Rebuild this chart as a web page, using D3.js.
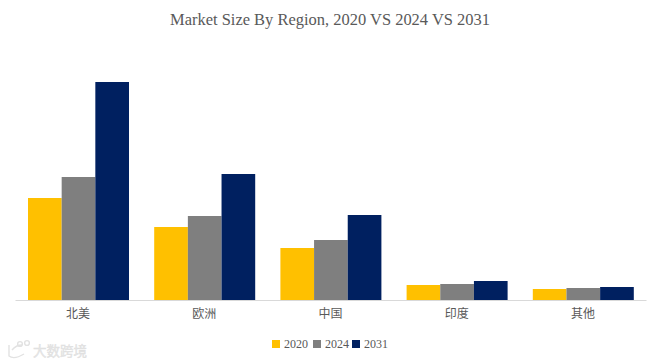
<!DOCTYPE html>
<html><head><meta charset="utf-8">
<script src="https://cdn.jsdelivr.net/npm/d3@7"></script>
<style>html,body{margin:0;padding:0;background:#fff}svg{display:block}</style>
</head><body><svg id="c" width="661" height="364"></svg>
<script>
const categories = ["北美","欧洲","中国","印度","其他"];
const years = ["2020","2024","2031"];
const v2020 = [102,73,52,15,11];
const v2024 = [123,84,60,16,12];
const v2031 = [218,126,85,19,13];
const colors = ["#ffc000","#7f7f7f","#002060"];
const series = [v2020,v2024,v2031];
const svg = d3.select("#c");
const x0 = d3.scaleBand().domain(categories).range([15,646]);
const x1 = d3.scaleBand().domain(years).range([13,114]);
const y = d3.scaleLinear().domain([0,218]).range([300,82]);
series.forEach((s,i)=>{
  svg.append("g").selectAll("rect").data(s).join("rect")
    .attr("x",(d,j)=>x0(categories[j])+x1(years[i]))
    .attr("width",x1.bandwidth())
    .attr("y",d=>y(d)).attr("height",d=>y(0)-y(d))
    .attr("fill",colors[i]);
});
const ax = svg.append("g").attr("transform","translate(0,300)").call(d3.axisBottom(x0).tickSize(0).tickPadding(9));
ax.select(".domain").attr("stroke","#d9d9d9").attr("stroke-width",1);
ax.selectAll("text").attr("font-family","'Noto Sans CJK SC'").attr("font-size",12).attr("fill","#595959");
svg.append("text").attr("x",330).attr("y",25).attr("text-anchor","middle")
  .attr("font-family","'Liberation Serif'").attr("font-size",16.5).attr("fill","#595959")
  .attr("textLength",320).attr("lengthAdjust","spacingAndGlyphs")
  .text("Market Size By Region, 2020 VS 2024 VS 2031");
const legX = d3.scaleOrdinal().domain(years).range([272,313,352]);
const lg = svg.append("g").selectAll("g").data(years).join("g");
lg.append("rect").attr("x",d=>legX(d)).attr("y",340).attr("width",8).attr("height",8).attr("fill",(d,i)=>colors[i]);
lg.append("text").attr("x",d=>legX(d)+12).attr("y",348).attr("font-family","'Liberation Serif'")
  .attr("font-size",12).attr("fill","#595959").text(d=>d);
// faint watermark
const wm = svg.append("g").attr("fill","none").attr("stroke","#e2e2e2").attr("stroke-width",1.4);
wm.append("path").attr("d","M9 345 L9 356 Q14 360 24 354 M12 350 Q16 345 22 345");
wm.append("circle").attr("cx",20).attr("cy",344).attr("r",2.4);
wm.append("circle").attr("cx",27).attr("cy",343).attr("r",2.4);
svg.append("text").attr("x",33).attr("y",356).attr("font-family","'Noto Sans CJK SC'").attr("font-size",13.5)
  .attr("fill","#e6e6e6").attr("stroke","#dedede").attr("stroke-width",0.4).text("大数跨境");
</script></body></html>
